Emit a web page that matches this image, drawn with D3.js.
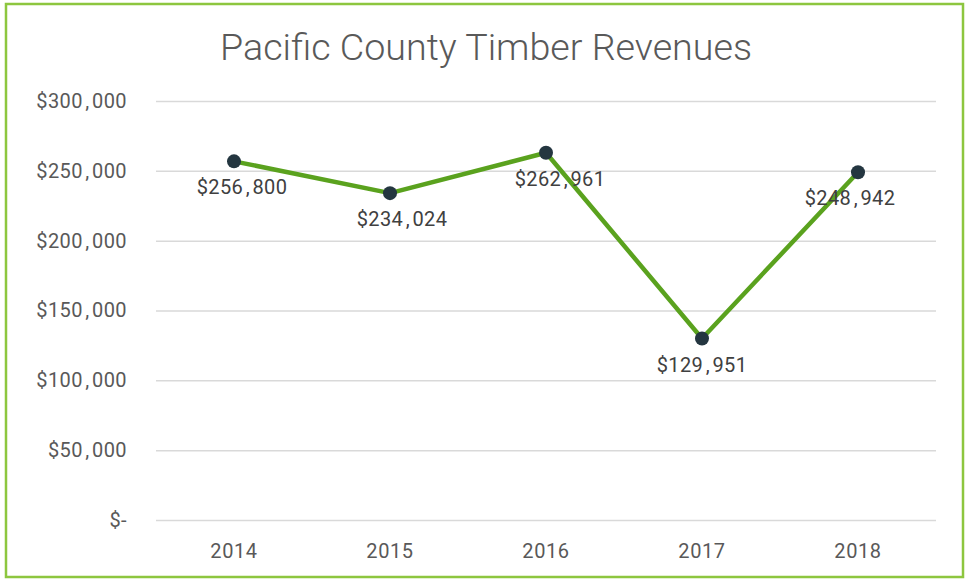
<!DOCTYPE html>
<html>
<head>
<meta charset="utf-8">
<script src="https://cdn.jsdelivr.net/npm/d3@7"></script>
<style>
  body { margin: 0; background: #fff; }
  text { font-family: Roboto, "Open Sans", sans-serif; }
</style>
</head>
<body>
<script>
// chart data
var years = ["2014", "2015", "2016", "2017", "2018"];
var revenues = [256800, 234024, 262961, 129951, 248942];
var yTicks = [0, 50000, 100000, 150000, 200000, 250000, 300000];
var labelShift = [8, 12, 14, 0, -8];

var width = 967, height = 580;
var margin = {left: 156, right: 31, top: 101, bottom: 60};

var money = function (d) {
    return "$" + d3.format(",")(d).replace(/,/g, "\u200A,\u200A");
};

var svg = d3.select("body").append("svg")
    .attr("width", width)
    .attr("height", height);

// outer frame
svg.append("rect")
    .attr("x", 6).attr("y", 4)
    .attr("width", 957).attr("height", 573)
    .attr("fill", "#fff")
    .attr("stroke", "#8dc63f")
    .attr("stroke-width", 2.5);

svg.append("text")
    .attr("x", 486).attr("y", 60)
    .attr("text-anchor", "middle")
    .attr("font-size", "36px")
    .attr("font-weight", 300)
    .attr("textLength", 532)
    .attr("lengthAdjust", "spacingAndGlyphs")
    .attr("fill", "#595959")
    .text("Pacific County Timber Revenues");

var x = d3.scaleBand()
    .domain(years)
    .range([margin.left, width - margin.right]);

var y = d3.scaleLinear()
    .domain([0, 300000])
    .range([height - margin.bottom, margin.top]);

// gridlines + y labels
var yAxis = d3.axisLeft(y)
    .tickValues(yTicks)
    .tickSize(-(width - margin.right - margin.left))
    .tickPadding(29)
    .tickFormat(function (d) { return d === 0 ? "$-" : money(d); });

var gy = svg.append("g")
    .attr("transform", "translate(" + margin.left + ",0)")
    .call(yAxis);
gy.select(".domain").remove();
gy.selectAll(".tick line").attr("stroke", "#d9d9d9").attr("stroke-width", 1.5);
gy.selectAll(".tick text")
    .attr("font-size", "20px")
    .attr("letter-spacing", "0.4px")
    .attr("fill", "#595959");

var xAxis = d3.axisBottom(x).tickSize(0).tickPadding(24);
var gx = svg.append("g")
    .attr("transform", "translate(0," + (height - margin.bottom) + ")")
    .call(xAxis);
gx.select(".domain").remove();
gx.selectAll(".tick text")
    .attr("font-size", "20px")
    .attr("letter-spacing", "0.6px")
    .attr("fill", "#595959");

var cx = function (d, i) { return x(years[i]) + x.bandwidth() / 2; };

var line = d3.line()
    .x(cx)
    .y(function (d) { return y(d); });

svg.append("path")
    .datum(revenues)
    .attr("d", line)
    .attr("fill", "none")
    .attr("stroke", "#5aa21e")
    .attr("stroke-width", 4.5)
    .attr("stroke-linejoin", "round");

svg.selectAll("circle.pt")
    .data(revenues)
    .enter()
    .append("circle")
    .attr("class", "pt")
    .attr("cx", cx)
    .attr("cy", function (d) { return y(d); })
    .attr("r", 7)
    .attr("fill", "#243640");

svg.selectAll("text.lbl")
    .data(revenues)
    .enter()
    .append("text")
    .attr("class", "lbl")
    .attr("x", function (d, i) { return cx(d, i) + labelShift[i]; })
    .attr("y", function (d) { return y(d) + 33; })
    .attr("text-anchor", "middle")
    .attr("font-size", "20px")
    .attr("letter-spacing", "0.4px")
    .attr("fill", "#404040")
    .text(money);
</script>
</body>
</html>
